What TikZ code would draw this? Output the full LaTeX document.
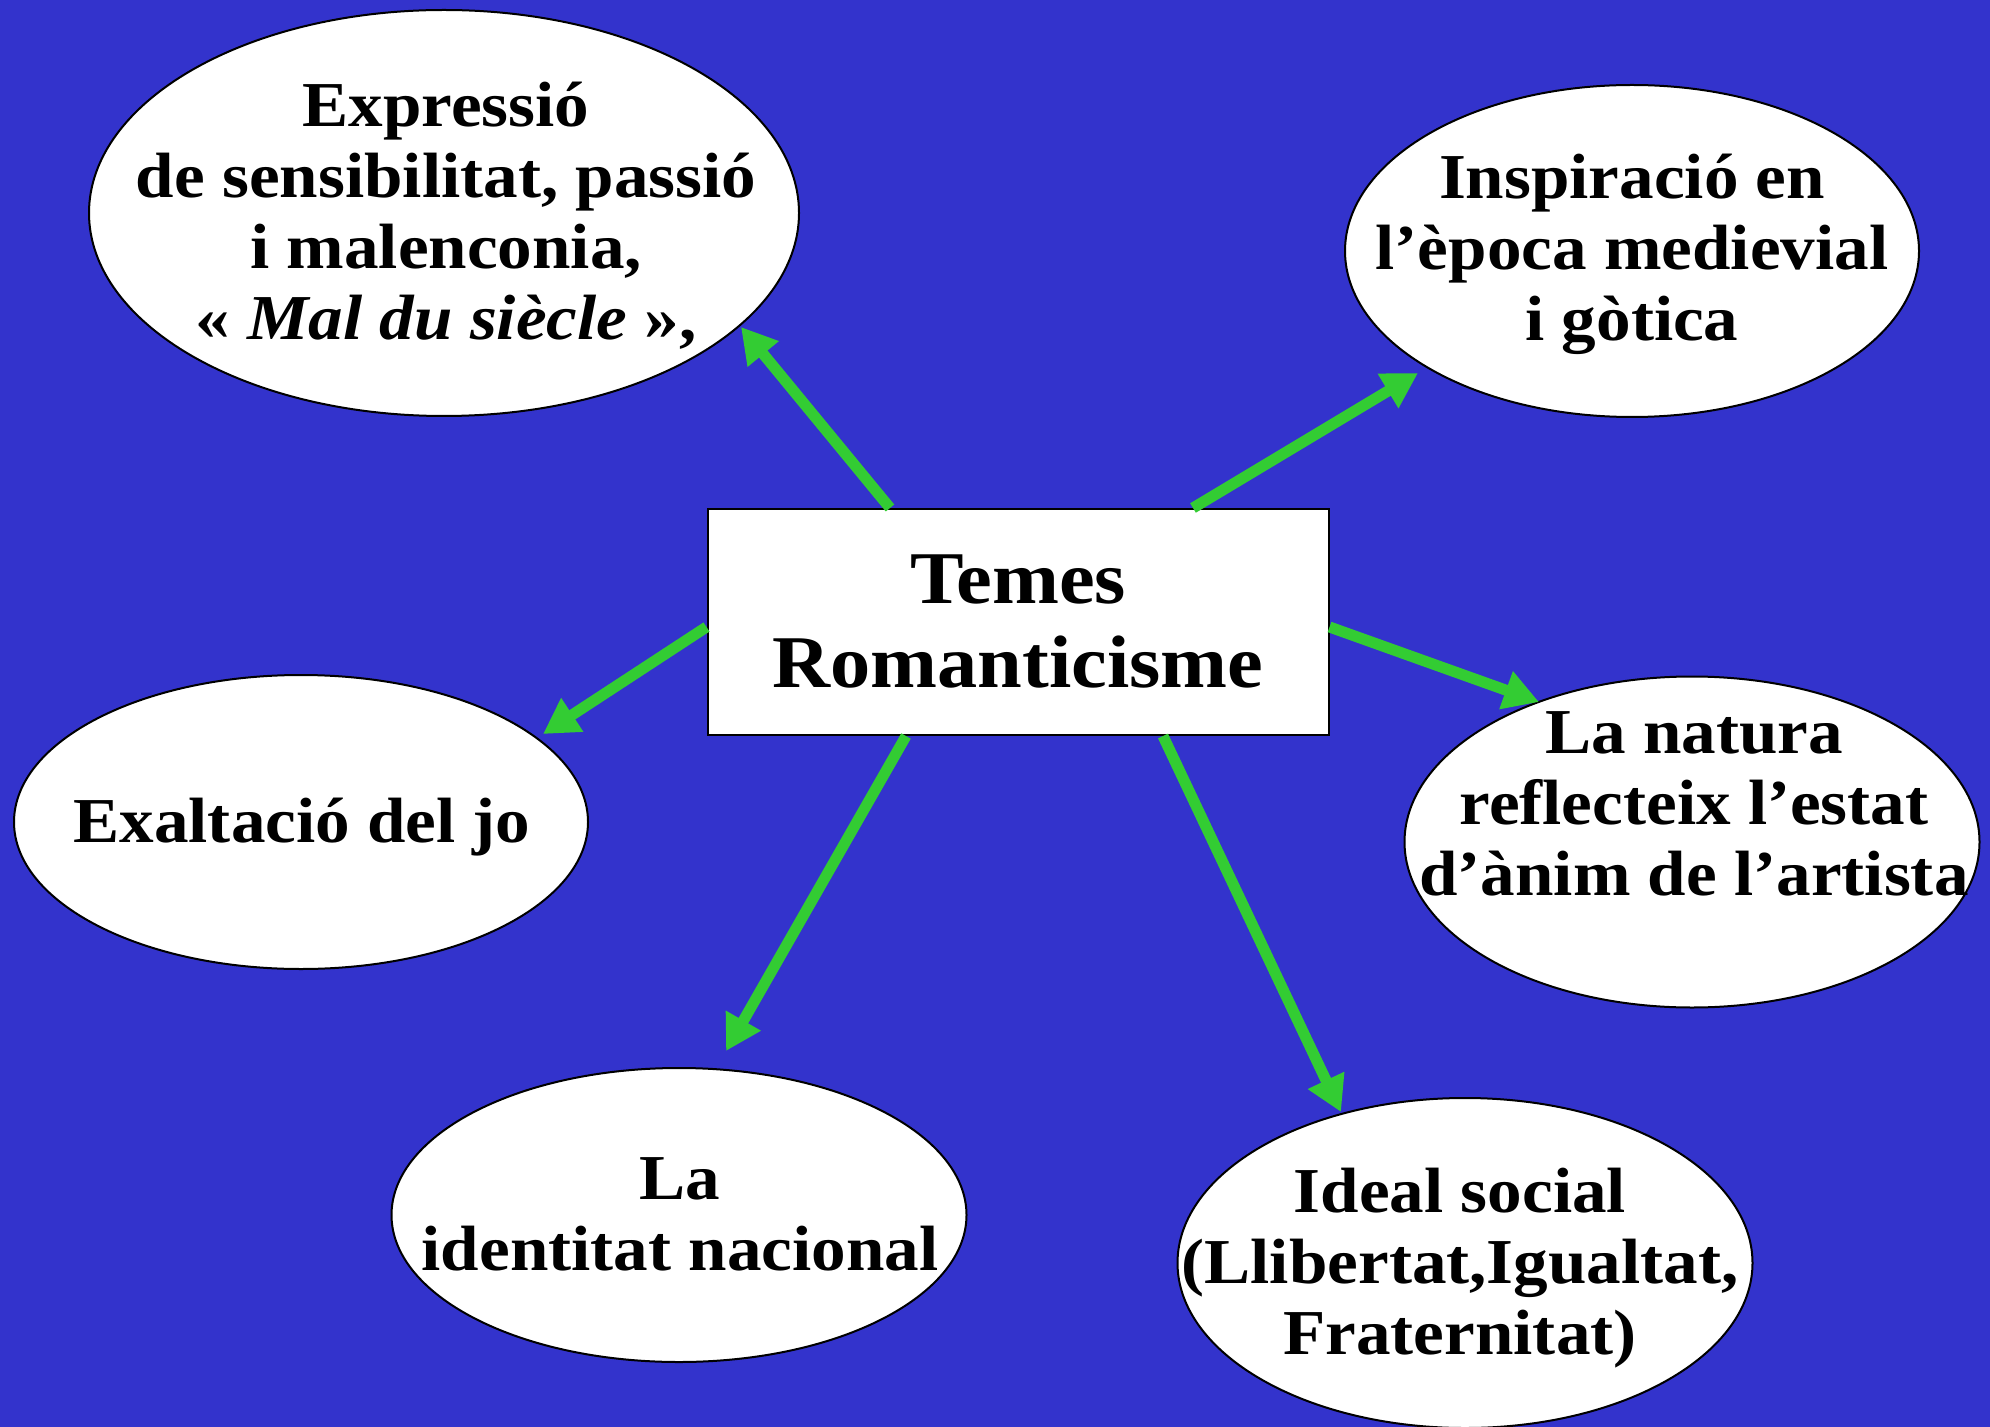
\documentclass[tikz,border=0pt]{standalone}
\usepackage{fontspec}
\setmainfont[FakeStretch=1.08]{Liberation Serif}
\usetikzlibrary{arrows.meta,shapes.geometric,calc}
\definecolor{bgblue}{RGB}{51,51,204}
\definecolor{arrgreen}{RGB}{51,204,51}
\newcommand{\mylines}[1]{\begin{tabular}[t]{@{}c@{}}#1\end{tabular}}
\tikzset{
  bubble/.style={ellipse, draw=black, line width=1pt, fill=white, inner sep=0pt},
  txt/.style={anchor=base, inner sep=0pt, font=\fontsize{32}{35.5}\selectfont\bfseries},
  centrebox/.style={draw=black, line width=1pt, fill=white, inner sep=0pt, align=center,
    font=\fontsize{37.2}{42}\selectfont\bfseries},
  arr/.style={draw=arrgreen, line width=5.5pt, -{Triangle[length=17.5pt,width=19pt]}},
}
\begin{document}
\begin{tikzpicture}[x=0.5pt,y=-0.5pt]
\fill[bgblue] (0,0) rectangle (1990,1427);
\useasboundingbox (0,0) rectangle (1990,1427);

% ellipses
\node[bubble, minimum width=355pt, minimum height=203pt] (e1) at (444,213) {};
\node[bubble, minimum width=287pt, minimum height=166pt] (e2) at (1632,251) {};
\node[bubble, minimum width=287pt, minimum height=147pt] (e3) at (301,822) {};
\node[bubble, minimum width=287.5pt, minimum height=165.5pt] (e4) at (1692,842) {};
\node[bubble, minimum width=287.5pt, minimum height=147pt] (e5) at (679,1215) {};
\node[bubble, minimum width=287.5pt, minimum height=165pt] (e6) at (1465,1263) {};

% texts
\node[txt] (t1) at (446,127) {\mylines{Expressió\\de sensibilitat, passió\\i malenconia,\\« \textit{Mal du siècle} »,}};
\node[txt] (t2) at (1632,199) {\mylines{Inspiració en\\l’època medievial\\i gòtica}};
\node[txt] (t3) at (302,842) {\mylines{Exaltació del jo}};
\node[txt] (t4) at (1694,753) {\mylines{La natura\\reflecteix l’estat\\d’ànim de l’artista}};
\node[txt] (t5) at (680,1199) {\mylines{La\\identitat nacional}};
\node[txt] (t6) at (1460,1212) {\mylines{Ideal social\\(Llibertat,Igualtat,\\Fraternitat)}};

% central box
\node[centrebox, minimum width=310.5pt, minimum height=113pt] (c) at (1018,622) {Temes\\Romanticisme};

% arrow tips
\coordinate (p1) at ($(e1.center)+(297,114)$);
\coordinate (p2) at ($(e2.center)+(-214,122)$);
\coordinate (p3) at ($(e3.center)+(242,-88)$);
\coordinate (p4) at ($(e4.center)+(-153,-140)$);
\coordinate (p5) at ($(e5.center)+(47,-164)$);
\coordinate (p6) at ($(e6.center)+(-124,-151)$);

% arrows
\draw[arr] ($(c.north)+(-128,0)$) -- (p1);
\draw[arr] ($(c.north)+(175,0)$) -- (p2);
\draw[arr] ($(c.west)+(0,5)$) -- (p3);
\draw[arr] ($(c.east)+(0,5)$) -- (p4);
\draw[arr] ($(c.south)+(-112,0)$) -- (p5);
\draw[arr] ($(c.south)+(145,0)$) -- (p6);
\end{tikzpicture}
\end{document}
